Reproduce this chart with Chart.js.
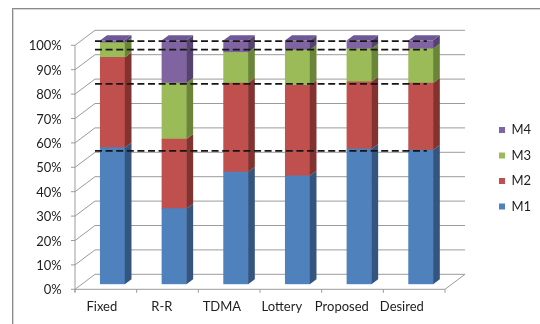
<!DOCTYPE html>
<html>
<head>
<meta charset="utf-8">
<script src="https://cdn.jsdelivr.net/npm/chart.js@4.4.1/dist/chart.umd.min.js"></script>
<style>
html,body{margin:0;padding:0;background:#fff;}
#wrap{position:relative;width:540px;height:324px;}
</style>
</head>
<body>
<div id="wrap"><canvas id="c" width="540" height="324"></canvas></div>
<script>
// ---- data ----
const categories = ['Fixed', 'R-R', 'TDMA', 'Lottery', 'Proposed', 'Desired'];
const seriesNames = ['M1', 'M2', 'M3', 'M4'];
const m1 = [56, 31, 46, 44.5, 55.5, 55];
const m2 = [37, 28.5, 36.5, 37, 27.5, 27.5];
const m3 = [6, 23, 12.5, 14.5, 13.5, 14];
const m4 = [1, 17.5, 5, 4, 3.5, 3.5];
const yTicks = [0, 10, 20, 30, 40, 50, 60, 70, 80, 90, 100];
const referenceCategory = 'Desired'; // dashed guide lines follow this bar

// ---- styles ----
const frontColors = ['#4F81BD', '#C0504D', '#9BBB59', '#8064A2'];
const sideColors  = ['#34557F', '#82322F', '#6A8438', '#56426F'];
const topColors   = ['#5C8DC7', '#C95E5B', '#A8C56A', '#6E5898'];
const font = { family: 'Lato, "Liberation Sans", sans-serif', size: 13 };
const textColor = '#1e1e1e';
const gridColor = '#9b9b9b';
const BAR_DEPTH = { dx: 6.7, dy: -5 };
const TO_WALL = { dx: 13.3, dy: -10 };
const TO_FRONT = { dx: -6.7, dy: 5 };

const seriesValues = [m1, m2, m3, m4];

function line(ctx, x1, y1, x2, y2) {
  ctx.beginPath(); ctx.moveTo(x1, y1); ctx.lineTo(x2, y2); ctx.stroke();
}
function poly(ctx, pts, color) {
  ctx.beginPath();
  ctx.moveTo(pts[0][0], pts[0][1]);
  for (let i = 1; i < pts.length; i++) ctx.lineTo(pts[i][0], pts[i][1]);
  ctx.closePath();
  ctx.fillStyle = color;
  ctx.fill();
}

const frame3d = {
  id: 'frame3d',
  beforeDraw(chart) {
    const ctx = chart.ctx;
    ctx.save();
    ctx.fillStyle = '#fff';
    ctx.fillRect(0, 0, chart.width, chart.height);
    ctx.lineWidth = 1;
    ctx.strokeStyle = '#8a8a8a';
    line(ctx, 12, 8.5, chart.width, 8.5);
    line(ctx, 12.5, 8, 12.5, chart.height);
    ctx.strokeStyle = '#d6d6d6';
    line(ctx, 13, 9.5, chart.width, 9.5);
    line(ctx, 13.5, 9, 13.5, chart.height);
    ctx.restore();
  },
  beforeDatasetsDraw(chart) {
    const { ctx, chartArea: a } = chart;
    const y = chart.scales.y, x = chart.scales.x;
    ctx.save();
    ctx.strokeStyle = gridColor;
    ctx.lineWidth = 1;
    const fl = a.left + TO_FRONT.dx, fr = a.right + TO_FRONT.dx;
    const bl = a.left + TO_WALL.dx, br = a.right + TO_WALL.dx;
    yTicks.forEach(v => {
      const py = y.getPixelForValue(v);
      const fy = py + TO_FRONT.dy, by = py + TO_WALL.dy;
      line(ctx, fl - 4, fy, fl, fy);
      line(ctx, fl, fy, bl, by);
      line(ctx, bl, by, br, by);
    });
    const fy0 = y.getPixelForValue(0) + TO_FRONT.dy;
    const fyTop = y.getPixelForValue(100) + TO_FRONT.dy;
    line(ctx, fl, fy0 + 3, fl, fyTop);
    line(ctx, fl, fy0, fr, fy0);
    line(ctx, fr, fy0, br, y.getPixelForValue(0) + TO_WALL.dy);
    for (let i = 0; i <= categories.length; i++) {
      const bx = x.getPixelForValue(i - 0.5) + TO_FRONT.dx;
      line(ctx, bx, fy0, bx, fy0 + 3.5);
    }
    ctx.restore();
  },
  afterDatasetsDraw(chart) {
    const ctx = chart.ctx;
    const a = chart.chartArea;
    ctx.save();
    const n = categories.length;
    for (let i = 0; i < n; i++) {
      let topD = -1;
      for (let d = 0; d < seriesValues.length; d++) if (seriesValues[d][i] > 0) topD = d;
      for (let d = 0; d < seriesValues.length; d++) {
        if (!(seriesValues[d][i] > 0)) continue;
        const el = chart.getDatasetMeta(d).data[i];
        const p = el.getProps(['x', 'y', 'base', 'width'], true);
        const l = p.x - p.width / 2, r = p.x + p.width / 2;
        const top = Math.min(p.y, p.base), bot = Math.max(p.y, p.base);
        poly(ctx, [[r, top], [r + BAR_DEPTH.dx, top + BAR_DEPTH.dy], [r + BAR_DEPTH.dx, bot + BAR_DEPTH.dy], [r, bot]], sideColors[d]);
        if (d === topD) {
          poly(ctx, [[l, top], [r, top], [r + BAR_DEPTH.dx, top + BAR_DEPTH.dy], [l + BAR_DEPTH.dx, top + BAR_DEPTH.dy]], topColors[d]);
        }
      }
    }
    // dashed guide lines at the cumulative levels of the reference bar
    const ri = categories.indexOf(referenceCategory);
    const refEl = chart.getDatasetMeta(0).data[ri];
    const xEnd = refEl.x + 6;
    const xStart = a.left + TO_WALL.dx;
    ctx.strokeStyle = '#161616';
    ctx.lineWidth = 1.8;
    ctx.setLineDash([7, 3.6]);
    let cum = 0;
    for (let d = 0; d < seriesValues.length; d++) {
      cum += seriesValues[d][ri];
      const py = chart.scales.y.getPixelForValue(cum) + 0.8;
      line(ctx, xStart, py, xEnd, py);
    }
    ctx.restore();
  }
};

const datasets = seriesNames.map((name, d) => ({
  label: name,
  data: seriesValues[d],
  backgroundColor: frontColors[d],
  borderWidth: 0,
  barThickness: 24.5,
  stack: 's'
}));

new Chart(document.getElementById('c'), {
  type: 'bar',
  data: { labels: categories, datasets },
  plugins: [frame3d],
  options: {
    responsive: false,
    animation: false,
    devicePixelRatio: 1,
    layout: { padding: { left: 0, right: 3.5, top: 40.3, bottom: 0 } },
    plugins: {
      tooltip: { enabled: false },
      legend: {
        position: 'right',
        fullSize: false,
        reverse: true,
        maxWidth: 50,
        title: { display: true, text: '', font: { size: 8 }, padding: { top: 0, bottom: 2.3 } },
        labels: {
          boxWidth: 6, boxHeight: 6, padding: 12.5,
          font: font, color: textColor
        }
      }
    },
    scales: {
      x: { type: 'category', stacked: true, display: false },
      xl: {
        type: 'linear', position: 'bottom', offset: false,
        min: -0.336, max: 5.831,
        grid: { display: false, drawTicks: false, offset: false }, border: { display: false },
        afterBuildTicks: s => { s.ticks = categories.map((_, i) => ({ value: i })); },
        afterFit: s => { s.height = 39.7; },
        ticks: {
          callback: v => categories[v],
          padding: 15, autoSkip: false, maxRotation: 0,
          font: font, color: textColor
        }
      },
      y: {
        type: 'linear', stacked: true, position: 'left', min: 0, max: 100,
        grid: { display: false, drawTicks: false }, border: { display: false },
        afterBuildTicks: s => { s.ticks = yTicks.map(v => ({ value: v })); },
        afterFit: s => { s.width = 81.7; },
        ticks: { padding: 20, labelOffset: 6, callback: v => v + '%', font: font, color: textColor }
      },
      yR: {
        type: 'linear', position: 'right', display: true,
        grid: { display: false, drawTicks: false }, border: { display: false },
        ticks: { display: false },
        afterFit: s => { s.width = 34.8; }
      }
    }
  }
});
</script>
</body>
</html>
